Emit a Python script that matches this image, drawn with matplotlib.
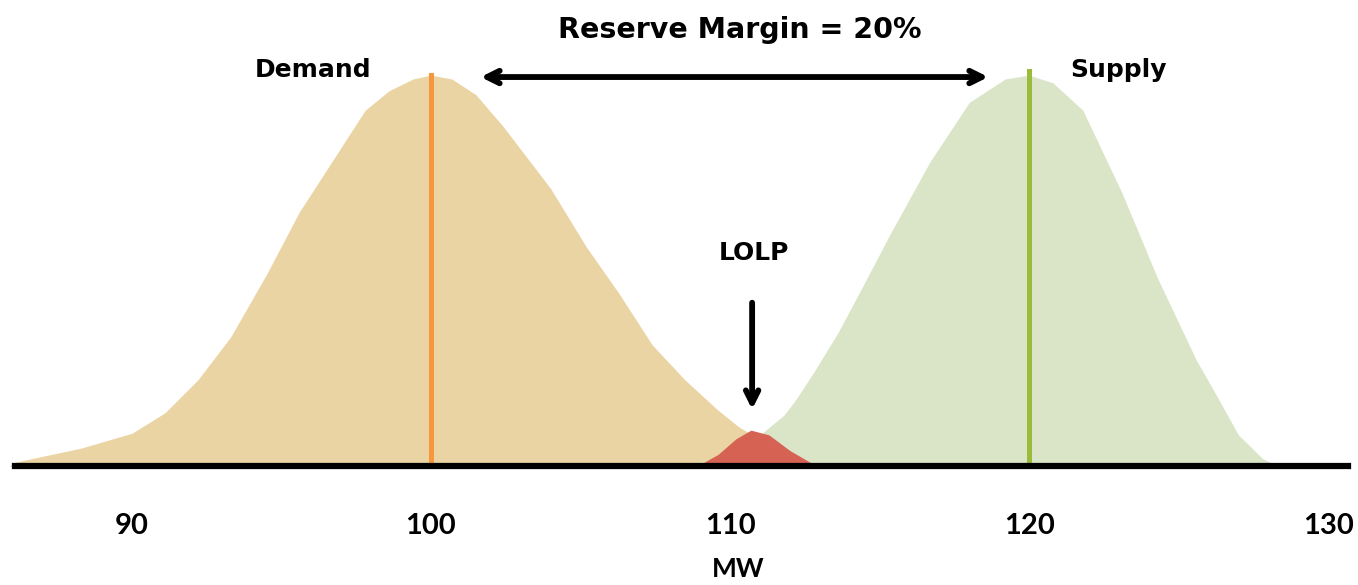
import numpy as np
import matplotlib
matplotlib.use('Agg')
import matplotlib.pyplot as plt

plt.rcParams['font.family'] = ['DejaVu Sans']

# demand distribution (MW, relative probability)
demand_mw = [85.9, 86.1, 86.7, 88.3, 90.0, 91.1, 92.2, 93.3, 94.5, 95.6, 96.7, 97.8, 98.6,
             99.4, 100.0, 100.7, 101.5, 102.4, 104.0, 105.2, 106.3, 107.4, 108.5, 109.6,
             110.3, 111.2, 112.0, 113.0, 113.8]
demand_p = [0.0, 0.01, 0.02, 0.046, 0.084, 0.136, 0.22, 0.33, 0.49, 0.65, 0.78, 0.91, 0.96,
            0.99, 1.0, 0.99, 0.95, 0.87, 0.71, 0.56, 0.44, 0.31, 0.22, 0.143,
            0.10, 0.06, 0.035, 0.012, 0.0]

# supply distribution
supply_mw = [108.3, 109.3, 110.2, 111.0, 111.8, 112.2, 112.8, 113.6, 114.3, 115.4, 116.7,
             118.0, 119.2, 120.0, 120.8, 121.8, 123.1, 124.3, 125.6, 126.2, 127.0, 127.8, 128.3]
supply_p = [0.0, 0.015, 0.04, 0.08, 0.13, 0.17, 0.24, 0.34, 0.44, 0.60, 0.78,
            0.93, 0.99, 1.0, 0.98, 0.91, 0.70, 0.48, 0.27, 0.19, 0.08, 0.02, 0.0]

# loss of load overlap
lolp_mw = [108.9, 109.6, 110.2, 110.7, 111.3, 112.0, 112.9]
lolp_p = [0.0, 0.03, 0.07, 0.092, 0.08, 0.04, 0.0]

demand_mean = 100
supply_mean = 120
xticks = [90, 100, 110, 120, 130]


fig = plt.figure(figsize=(13.58, 5.85), dpi=100)
ax = fig.add_axes([0, 0, 1, 1])
ax.set_xlim(85.59, 131.0)
ax.set_ylim(-0.304, 1.192)

ax.fill_between(demand_mw, demand_p, 0, color='#EBD4A4', lw=0, zorder=1)
ax.fill_between(supply_mw, supply_p, 0, color='#DAE5C8', lw=0, zorder=1)
ax.fill_between(lolp_mw, lolp_p, 0, color='#D66254', lw=0, zorder=2)

ax.plot([demand_mean, demand_mean], [0, 1.0], color='#F7963C', lw=3.6, zorder=3)
ax.plot([supply_mean, supply_mean], [0, 1.01], color='#9BBB3B', lw=3.6, zorder=3)

# axis line and labels
for s in ['top', 'left', 'right']:
    ax.spines[s].set_visible(False)
ax.spines['bottom'].set_position(('data', 0))
ax.spines['bottom'].set_bounds(86.1, 130.67)
ax.spines['bottom'].set_linewidth(4.5)
ax.spines['bottom'].set_zorder(5)
ax.set_yticks([])
ax.set_xticks(xticks)
ax.tick_params(axis='x', length=0, pad=34, labelsize=21)
for t in ax.get_xticklabels():
    t.set_fontweight('bold')
    t.set_family(['Lato', 'DejaVu Sans'])
ax.set_xlabel('MW', fontsize=19, fontweight='bold', family=['Lato', 'DejaVu Sans'])
ax.xaxis.set_label_coords(738 / 1358, 28 / 585)

# annotations
ax.text(110.33, 1.115, 'Reserve Margin = 20%', fontsize=20.5, fontweight='bold',
        ha='center', va='center')
ax.text(96.05, 1.013, 'Demand', fontsize=18, fontweight='bold', ha='center', va='center')
ax.text(123.0, 1.013, 'Supply', fontsize=18, fontweight='bold', ha='center', va='center')
ax.text(110.8, 0.545, 'LOLP', fontsize=18, fontweight='bold', ha='center', va='center')

ax.annotate('', xy=(101.57, 0.995), xytext=(118.73, 0.995),
            arrowprops=dict(arrowstyle='<->, head_length=0.9, head_width=0.45', lw=4.2, color='black'))
ax.annotate('', xy=(110.74, 0.138), xytext=(110.74, 0.425),
            arrowprops=dict(arrowstyle='->, head_length=0.9, head_width=0.45', lw=4.2, color='black'))

plt.savefig('out.png', dpi=100)
